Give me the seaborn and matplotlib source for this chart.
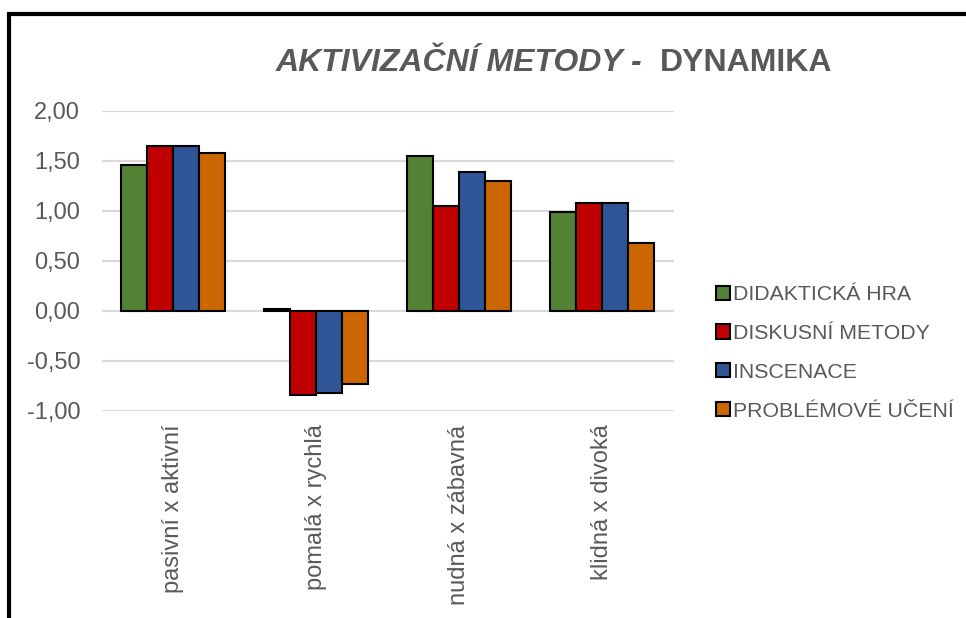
import numpy as np
import pandas as pd
import seaborn as sns
import matplotlib.pyplot as plt
from matplotlib.patches import Rectangle
from matplotlib.ticker import FuncFormatter

categories = ["pasivní x aktivní", "pomalá x rychlá", "nudná x zábavná", "klidná x divoká"]
methods = ["DIDAKTICKÁ HRA", "DISKUSNÍ METODY", "INSCENACE", "PROBLÉMOVÉ UČENÍ"]
didakticka_hra = [1.46, 0.02, 1.55, 0.99]
diskusni_metody = [1.65, -0.84, 1.05, 1.08]
inscenace = [1.65, -0.82, 1.39, 1.08]
problemove_uceni = [1.58, -0.73, 1.30, 0.68]
colors = ["#548235", "#C00000", "#2F5597", "#CC6600"]

series = [didakticka_hra, diskusni_metody, inscenace, problemove_uceni]
rows = []
for m, vals in zip(methods, series):
    for c, v in zip(categories, vals):
        rows.append({"kategorie": c, "metoda": m, "hodnota": v})
df = pd.DataFrame(rows)

sns.set_style("white")
plt.rcParams['font.family'] = ['Liberation Sans', 'DejaVu Sans']
grey = "#595959"

fig = plt.figure(figsize=(9.66, 6.18), dpi=100)
ax = fig.add_axes([0.1053, 0.3354, 0.5924, 0.485])

sns.barplot(data=df, x="kategorie", y="hodnota", hue="metoda", order=categories,
            hue_order=methods, palette=colors, width=0.727, edgecolor="black",
            linewidth=1.5, saturation=1, ax=ax, legend=True)

ax.set_ylim(-1, 2)
ax.set_xlim(-0.5, 3.5)
ax.set_yticks(np.arange(-1, 2.01, 0.5))
ax.yaxis.set_major_formatter(FuncFormatter(lambda v, p: f"{v:.2f}".replace(".", ",")))
ax.grid(axis="y", color="#D9D9D9", linewidth=1.5)
ax.set_axisbelow(True)
for s in ax.spines.values():
    s.set_visible(False)
ax.set_xlabel("")
ax.set_ylabel("")
ax.tick_params(axis="y", length=0, pad=15.5, labelsize=17, labelcolor=grey)
ax.tick_params(axis="x", length=0, pad=10, labelsize=17, labelcolor=grey, labelrotation=90)

handles, labels = ax.get_legend_handles_labels()
ax.legend_.remove()
fig.legend(handles, labels, loc="center left", bbox_to_anchor=(0.730, 0.429),
           frameon=False, fontsize=15.3, labelcolor=grey, handlelength=0.65,
           handleheight=0.65, handletextpad=0.15, labelspacing=0.93, borderpad=0)

t1 = fig.text(0.285, 0.885, "AKTIVIZAČNÍ METODY -  ", fontsize=23, style="italic",
              fontweight="bold", color=grey,
              family=['Liberation Sans Narrow', 'Liberation Sans', 'DejaVu Sans'])
ax.annotate("DYNAMIKA", xy=(1, 0), xycoords=t1, va="bottom", ha="left",
            fontsize=23, fontweight="bold", color=grey,
            family=['Liberation Sans Narrow', 'Liberation Sans', 'DejaVu Sans'])

fig.patches.append(Rectangle((8.5 / 966, -0.02), 1.0, 0.9773 + 0.02, transform=fig.transFigure,
                             fill=False, edgecolor="black", linewidth=3))

fig.savefig("out.png", dpi=100)
